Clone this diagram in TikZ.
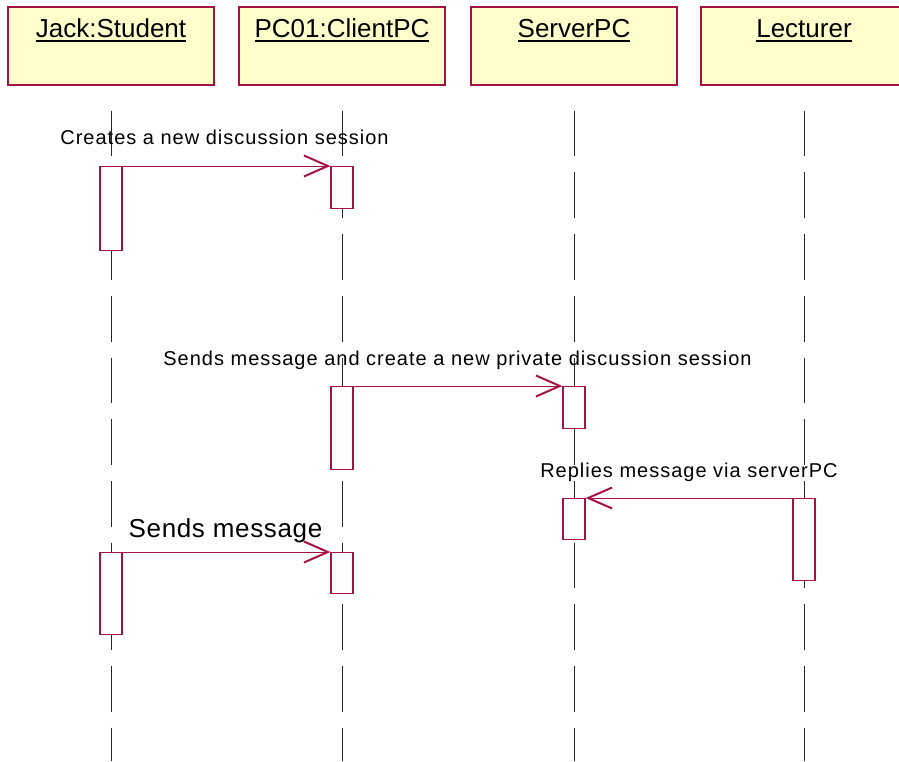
\documentclass[tikz,border=0pt]{standalone}
\usepackage{fontspec}
\setmainfont{Liberation Sans}
\newfontfamily\msgfont[LetterSpace=5]{Liberation Sans}
\newfontfamily\bigmsgfont[LetterSpace=2.5]{Liberation Sans}
\usetikzlibrary{arrows.meta}

\definecolor{roseline}{RGB}{165,18,68}
\definecolor{headfill}{RGB}{255,255,204}
\definecolor{lifegray}{RGB}{40,40,40}

% underlined object name in a header box
\newcommand{\objname}[1]{\setbox0\hbox{#1}\rlap{\rule[-5pt]{\wd0}{1.8pt}}\box0}

\tikzset{
  headbox/.style={draw=roseline, fill=headfill, line width=1.4pt, rectangle,
    minimum width=206pt, minimum height=78pt, inner sep=0pt},
  headtext/.style={anchor=base, inner sep=0pt,
    font=\fontsize{26}{30}\selectfont},
  lifeline/.style={draw=lifegray, line width=1pt,
    dash pattern=on 45.7pt off 16pt, shorten <=25pt},
  actbox/.style={draw=roseline, fill=white, line width=1.2pt, rectangle,
    minimum width=22pt, inner sep=0pt, anchor=north},
  msg/.style={draw=roseline, line width=1pt,
    -{Straight Barb[length=24pt, width=21pt, line width=2pt]}},
  msglabel/.style={anchor=base, inner sep=0pt,
    font=\msgfont\fontsize{20}{24}\selectfont},
  biglabel/.style={anchor=base, inner sep=0pt,
    font=\bigmsgfont\fontsize{26}{30}\selectfont}
}

\begin{document}
\begin{tikzpicture}[x=1pt, y=-1pt]
\useasboundingbox (0,0) rectangle (899,761);

% object headers
\node[headbox] (hJack)    at (111,46) {};
\node[headbox] (hClient)  at (342,46) {};
\node[headbox] (hServer)  at (574,46) {};
\node[headbox] (hLect)    at (804,46) {};
\node[headtext] (tJack)   at (111,37) {\objname{Jack:Student}};
\node[headtext] (tClient) at (342,37) {\objname{PC01:ClientPC}};
\node[headtext] (tServer) at (574,37) {\objname{ServerPC}};
\node[headtext] (tLect)   at (804,37) {\objname{Lecturer}};

% lifelines
\coordinate (eJack)   at (111,761);
\coordinate (eClient) at (342,761);
\coordinate (eServer) at (574,761);
\coordinate (eLect)   at (804,761);
\draw[lifeline] (hJack.south)   -- (eJack);
\draw[lifeline] (hClient.south) -- (eClient);
\draw[lifeline] (hServer.south) -- (eServer);
\draw[lifeline] (hLect.south)   -- (eLect);

% activation bars
\node[actbox, minimum height=84pt] (aJ1) at (111,166) {};
\node[actbox, minimum height=42pt] (aC1) at (342,166) {};
\node[actbox, minimum height=83pt] (aC2) at (342,386) {};
\node[actbox, minimum height=42pt] (aS1) at (574,386) {};
\node[actbox, minimum height=41pt] (aS2) at (574,498) {};
\node[actbox, minimum height=82pt] (aL1) at (804,498) {};
\node[actbox, minimum height=82pt] (aJ2) at (111,552) {};
\node[actbox, minimum height=41pt] (aC3) at (342,552) {};

% messages
\draw[msg] (aJ1.north east) -- (aC1.north west);
\draw[msg] (aC2.north east) -- (aS1.north west);
\draw[msg] (aL1.north west) -- (aS2.north east);
\draw[msg] (aJ2.north east) -- (aC3.north west);

% message labels
\node[msglabel] (m1) at (224.5,144) {Creates a new discussion session};
\node[msglabel] (m2) at (457.5,365) {Sends message and create a new private discussion session};
\node[msglabel] (m3) at (689,477) {Replies message via serverPC};
\node[biglabel] (m4) at (225.5,537) {Sends message};
\end{tikzpicture}
\end{document}
